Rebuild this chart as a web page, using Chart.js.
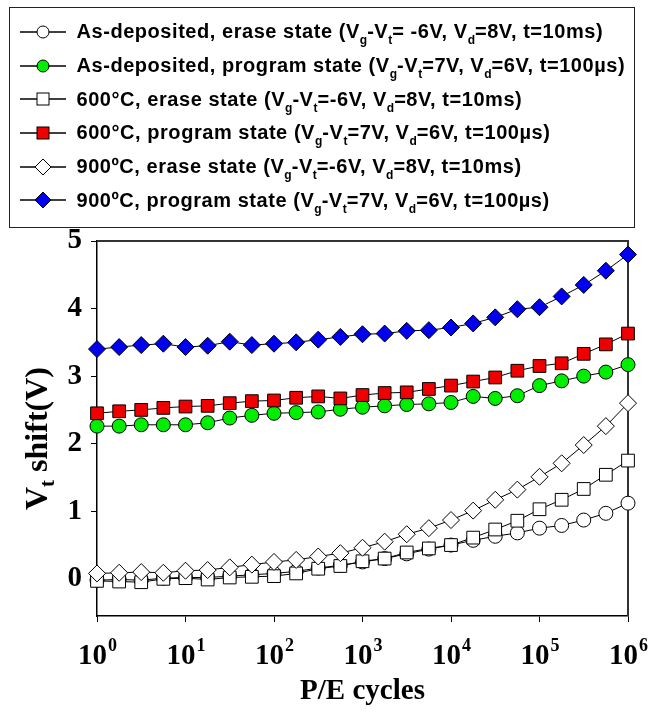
<!DOCTYPE html>
<html>
<head>
<meta charset="utf-8">
<title>Vt shift vs P/E cycles</title>
<script src="https://cdn.jsdelivr.net/npm/chart.js@4.4.0/dist/chart.umd.min.js"></script>
<style>
  body { margin: 0; background: #fff; }
  #wrap { position: relative; width: 649px; height: 713px; }
  #plot { position: absolute; left: 0; top: 0; }
  #legendBox {
    position: absolute; left: 9px; top: 7px; width: 626px; height: 221px;
    box-sizing: border-box; border: 1.5px solid #222; padding-top: 7px;
    font: bold 20px "Liberation Sans", Arial, sans-serif; letter-spacing: 0.55px; color: #000;
  }
  .row { display: flex; align-items: center; height: 33.7px; white-space: nowrap; }
  .row svg { flex: none; margin-left: 9.5px; margin-right: 11px; }
  .row sub { font-size: 12px; vertical-align: -6px; line-height: 0; letter-spacing: 0; }
</style>
</head>
<body>
<div id="wrap">
  <canvas id="plot" width="649" height="713"></canvas>
  <div id="legendBox"></div>
</div>
<script>
// P/E cycle counts (four points per decade)
const cycles = [1, 1.78, 3.16, 5.62, 10, 17.8, 31.6, 56.2, 100, 178, 316, 562,
  1000, 1780, 3160, 5620, 10000, 17800, 31600, 56200, 100000, 178000, 316000, 562000, 1000000];

// Vt shift (V)
const asDepErase = [-0.02, -0.01, -0.02, 0.01, 0.02, 0.02, 0.04, 0.06, 0.08, 0.11, 0.16, 0.20,
  0.25, 0.30, 0.37, 0.44, 0.50, 0.57, 0.63, 0.68, 0.75, 0.79, 0.87, 0.97, 1.12];
const asDepProgram = [2.26, 2.26, 2.28, 2.28, 2.28, 2.31, 2.38, 2.42, 2.45, 2.46, 2.47, 2.51,
  2.54, 2.56, 2.58, 2.59, 2.61, 2.70, 2.67, 2.71, 2.86, 2.93, 3.00, 3.06, 3.17];
const erase600 = [-0.03, -0.04, -0.05, 0.00, 0.01, -0.01, 0.02, 0.03, 0.04, 0.08, 0.15, 0.19,
  0.26, 0.30, 0.39, 0.45, 0.50, 0.61, 0.73, 0.86, 1.03, 1.17, 1.33, 1.54, 1.75];
const program600 = [2.45, 2.48, 2.50, 2.53, 2.55, 2.56, 2.60, 2.63, 2.64, 2.68, 2.70, 2.67,
  2.72, 2.75, 2.76, 2.81, 2.86, 2.92, 2.98, 3.08, 3.15, 3.19, 3.33, 3.47, 3.63];
const erase900 = [0.08, 0.09, 0.10, 0.09, 0.12, 0.13, 0.17, 0.21, 0.25, 0.28, 0.33, 0.38,
  0.46, 0.55, 0.66, 0.75, 0.87, 1.01, 1.17, 1.32, 1.51, 1.71, 1.98, 2.26, 2.60];
const program900 = [3.40, 3.43, 3.46, 3.48, 3.43, 3.45, 3.51, 3.46, 3.48, 3.50, 3.54, 3.58,
  3.62, 3.63, 3.67, 3.68, 3.72, 3.78, 3.87, 3.99, 4.02, 4.18, 4.35, 4.56, 4.80];

const xTicks = [1, 10, 100, 1000, 10000, 100000, 1000000];
const yTicks = [0, 1, 2, 3, 4, 5];

// "_x" marks a subscript character
const seriesLabels = [
  'As-deposited, erase state (V_g-V_t= -6V, V_d=8V, t=10ms)',
  'As-deposited, program state (V_g-V_t=7V, V_d=6V, t=100\u00b5s)',
  '600\u00b0C, erase state (V_g-V_t=-6V, V_d=8V, t=10ms)',
  '600\u00b0C, program state (V_g-V_t=7V, V_d=6V, t=100\u00b5s)',
  '900\u00baC, erase state (V_g-V_t=-6V, V_d=8V, t=10ms)',
  '900\u00baC, program state (V_g-V_t=7V, V_d=6V, t=100\u00b5s)'
];

const serif = '"Liberation Serif", "Times New Roman", serif';

function series(i, values, style, fill, radius) {
  return {
    label: seriesLabels[i].replace(/_/g, ''),
    data: values.map((v, k) => ({ x: cycles[k], y: v })),
    pointStyle: style,
    pointRadius: radius,
    pointHoverRadius: radius,
    pointBackgroundColor: fill,
    pointBorderColor: '#000',
    pointBorderWidth: 1,
    borderColor: '#000',
    borderWidth: 1,
    clip: false,
    order: 5 - i
  };
}

const datasets = [
  series(0, asDepErase, 'circle', '#fff', 7),
  series(1, asDepProgram, 'circle', '#00ee00', 7),
  series(2, erase600, 'rect', '#fff', 9),
  series(3, program600, 'rect', '#ee0000', 9),
  series(4, erase900, 'rectRot', '#fff', 8.5),
  series(5, program900, 'rectRot', '#0000ee', 8.5)
];

// frame on top and right of the plot area
const frame = {
  id: 'frame',
  beforeDatasetsDraw(chart) {
    const { ctx, chartArea: a } = chart;
    ctx.save();
    ctx.strokeStyle = '#333';
    ctx.lineWidth = 2;
    ctx.beginPath();
    ctx.moveTo(a.left, a.top);
    ctx.lineTo(a.right, a.top);
    ctx.lineTo(a.right, a.bottom);
    ctx.stroke();
    ctx.restore();
  }
};

// power-of-ten tick labels and axis titles
const axisText = {
  id: 'axisText',
  afterDraw(chart) {
    const { ctx, chartArea: a, scales: { x } } = chart;
    ctx.save();
    ctx.fillStyle = '#000';
    ctx.textBaseline = 'alphabetic';
    xTicks.forEach(v => {
      const px = x.getPixelForValue(v);
      const exp = String(Math.round(Math.log10(v)));
      ctx.font = 'bold 29px ' + serif;
      const w1 = ctx.measureText('10').width;
      ctx.font = 'bold 18px ' + serif;
      const w2 = ctx.measureText(exp).width;
      const x0 = px - (w1 + w2) / 2;
      ctx.font = 'bold 29px ' + serif;
      ctx.fillText('10', x0, 664);
      ctx.font = 'bold 18px ' + serif;
      ctx.fillText(exp, x0 + w1 + 1, 651);
    });

    ctx.font = 'bold 29px ' + serif;
    ctx.textAlign = 'center';
    ctx.fillText('P/E cycles', (a.left + a.right) / 2, 699);

    // rotated y title: V, subscript t, shift(V)
    ctx.translate(36, (a.top + a.bottom) / 2 + 10);
    ctx.rotate(-Math.PI / 2);
    ctx.textAlign = 'left';
    const big = 'bold 32px ' + serif, small = 'bold 21px ' + serif;
    ctx.font = big;
    const wV = ctx.measureText('V').width;
    const wS = ctx.measureText(' shift(V)').width;
    ctx.font = small;
    const wt = ctx.measureText('t').width;
    let cx = -(wV + wt + wS) / 2;
    ctx.font = big;
    ctx.fillText('V', cx, 11);
    cx += wV;
    ctx.font = small;
    ctx.fillText('t', cx, 18);
    cx += wt;
    ctx.font = big;
    ctx.fillText(' shift(V)', cx, 11);
    ctx.restore();
  }
};

new Chart(document.getElementById('plot'), {
  type: 'line',
  data: { datasets },
  options: {
    responsive: false,
    animation: false,
    layout: { padding: { top: 241, right: 21, bottom: 0, left: 0 } },
    plugins: { legend: { display: false }, tooltip: { enabled: false } },
    scales: {
      x: {
        type: 'logarithmic',
        min: 1,
        max: 1000000,
        afterBuildTicks: s => { s.ticks = xTicks.map(v => ({ value: v })); },
        afterFit: s => { s.height = 97; },
        ticks: { display: false },
        grid: { drawOnChartArea: false, drawTicks: true, tickLength: 6, color: '#000' },
        border: { color: '#000', width: 1.5 }
      },
      y: {
        type: 'linear',
        min: -0.55,
        max: 5,
        afterBuildTicks: s => { s.ticks = yTicks.map(v => ({ value: v })); },
        afterFit: s => { s.width = 97; },
        ticks: { color: '#000', padding: 9, font: { family: serif, weight: 'bold', size: 29 } },
        grid: { drawOnChartArea: false, drawTicks: true, tickLength: 6, color: '#000' },
        border: { color: '#000', width: 1.5 }
      }
    }
  },
  plugins: [frame, axisText]
});

// legend rows built from the dataset styles
function markerSvg(ds) {
  const c = 23, m = 17;
  let shape;
  if (ds.pointStyle === 'circle') {
    shape = `<circle cx="${c}" cy="${m}" r="6" fill="${ds.pointBackgroundColor}" stroke="#000" stroke-width="1"/>`;
  } else if (ds.pointStyle === 'rect') {
    shape = `<rect x="${c - 6}" y="${m - 6}" width="12" height="12" fill="${ds.pointBackgroundColor}" stroke="#000" stroke-width="1"/>`;
  } else {
    shape = `<polygon points="${c},${m - 8} ${c + 8},${m} ${c},${m + 8} ${c - 8},${m}" fill="${ds.pointBackgroundColor}" stroke="#000" stroke-width="1"/>`;
  }
  return `<svg width="46" height="34" viewBox="0 0 46 34"><line x1="0" y1="${m}" x2="46" y2="${m}" stroke="#000" stroke-width="1.3"/>${shape}</svg>`;
}

const box = document.getElementById('legendBox');
datasets.forEach((ds, i) => {
  const row = document.createElement('div');
  row.className = 'row';
  row.innerHTML = markerSvg(ds) + '<span>' + seriesLabels[i].replace(/_(\w)/g, '<sub>$1</sub>') + '</span>';
  box.appendChild(row);
});
</script>
</body>
</html>
